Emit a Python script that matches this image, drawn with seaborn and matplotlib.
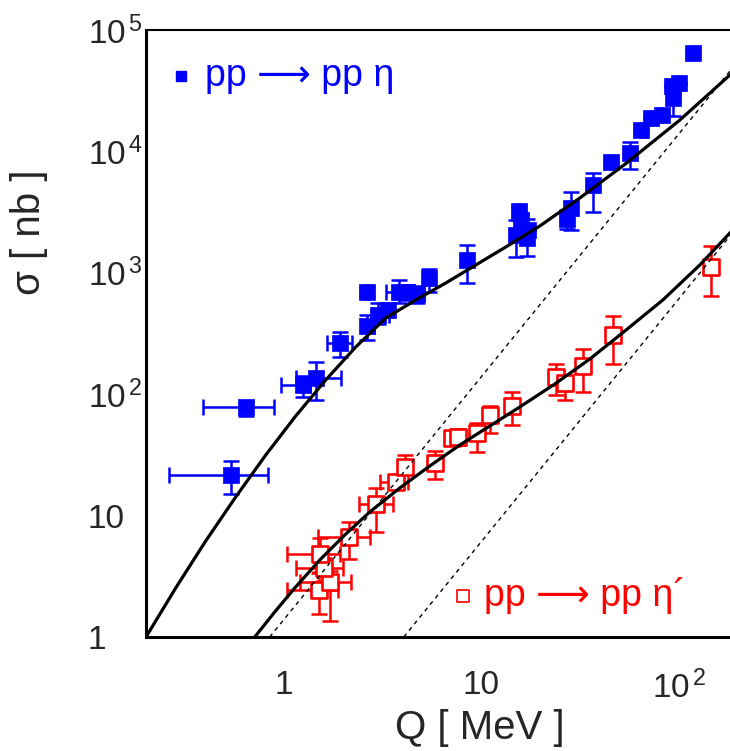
import numpy as np
import pandas as pd
import seaborn as sns
import matplotlib
matplotlib.use("Agg")
import matplotlib.pyplot as plt
from matplotlib.ticker import FixedLocator, LogLocator, NullFormatter

# ---------------- data ----------------
# pp -> pp eta
eta_Q     = [0.54, 0.64, 1.25, 1.46, 1.93, 2.62, 2.62, 3.0, 3.35, 3.8, 4.2, 4.7, 5.45,
             8.4, 15.0, 15.5, 15.9, 17.0, 17.2, 27.0, 28.3, 36.8, 45.2, 56.4, 64.0,
             72.6, 81.7, 93.5, 91.7, 100.0, 118.0]
eta_sig   = [21.5, 79, 119, 137, 262, 700, 365, 450, 490, 700, 690, 670, 900,
             1280, 2050, 3200, 2700, 1930, 2250, 2800, 3400, 5300, 8200, 9700, 15000,
             18700, 19900, 27300, 34600, 36400, 64300]
eta_Qlo   = [0.26, 0.39, 0.96, 1.15, 1.66, 2.62, 2.45, 2.8, 3.35, 3.3, 4.2, 4.3, 5.45,
             8.4, 15.0, 15.5, 15.9, 17.0, 17.2, 27.0, 28.3, 36.8, 45.2, 56.4, 64.0,
             72.6, 81.7, 93.5, 91.7, 100.0, 118.0]
eta_Qhi   = [0.83, 0.89, 1.35, 1.95, 2.21, 2.62, 2.85, 3.4, 3.35, 4.3, 4.2, 5.1, 5.45,
             8.4, 15.0, 15.5, 15.9, 17.0, 17.2, 27.0, 28.3, 36.8, 45.2, 56.4, 64.0,
             72.6, 81.7, 93.5, 91.7, 100.0, 118.0]
eta_slo   = [15, 66, 95, 90, 204, 640, 280, 380, 490, 560, 600, 560, 690,
             830, 1350, 2700, 2700, 1380, 2250, 2300, 2250, 3150, 8200, 7200, 15000,
             18700, 19900, 19600, 34600, 36400, 64300]
eta_shi   = [28, 85, 140, 183, 324, 760, 450, 560, 490, 880, 800, 780, 1070,
             1700, 2700, 3500, 2700, 2780, 2250, 3300, 4660, 6600, 8200, 11900, 15000,
             18700, 19900, 30000, 34600, 36400, 64300]

# pp -> pp eta'
etap_Q    = [1.50, 1.70, 1.60, 1.53, 2.13, 2.92, 3.68, 4.08, 5.8, 7.06, 7.62, 9.44,
             11.0, 14.2, 23.8, 26.4, 32.5, 46.4, 145.0]
etap_sig  = [2.44, 2.82, 3.7, 4.83, 6.7, 12.5, 19.0, 25.3, 27.0, 43.2, 44.7, 47.6,
             67.4, 80.0, 139, 123, 171, 308, 1120]
etap_Qlo  = [1.03, 1.20, 1.15, 1.035, 1.48, 2.40, 3.05, 3.9, 5.8, 7.06, 7.62, 9.44,
             11.0, 14.2, 23.8, 26.4, 32.5, 46.4, 145.0]
etap_Qhi  = [1.88, 2.19, 2.0, 1.91, 2.74, 3.57, 4.25, 4.3, 5.8, 7.06, 7.62, 9.44,
             11.0, 14.2, 23.8, 26.4, 32.5, 46.4, 145.0]
etap_slo  = [1.55, 1.35, 2.9, 3.45, 4.36, 7.37, 17.0, 22.0, 19.9, 38.0, 38.0, 33.6,
             48.0, 55.7, 98.5, 89.6, 104, 179, 650]
etap_shi  = [3.34, 3.52, 4.5, 6.5, 8.9, 16.9, 21.0, 31.5, 34.0, 50.0, 52.0, 57.6,
             80.0, 104, 176, 140, 234, 440, 1660]

# theory curves
fsi_eta_Q    = [0.2, 0.2827, 0.4012, 0.5692, 0.8081, 1.146, 1.626, 2.308, 3.276, 4.647,
                6.594, 9.357, 13.28, 19.74, 31.48, 54.28, 101.1, 181.1, 200.0]
fsi_eta_sig  = [1.0, 2.533, 6.178, 14.23, 31.56, 66.14, 130.9, 244.8, 424.4, 597,
                824, 1160, 1632, 2430, 4131, 8025, 18140, 42600, 50000]
fsi_etap_Q   = [0.7107, 0.8973, 1.133, 1.517, 2.030, 2.718, 3.856, 5.471, 7.764, 11.02,
                15.63, 23.51, 35.38, 53.21, 82.86, 127.6, 181.1, 200.0]
fsi_etap_sig = [1.0, 1.607, 2.533, 4.308, 6.921, 10.71, 16.88, 25.62, 38.15, 54.71,
                78.47, 121.3, 195.0, 331.6, 597, 1160, 2127, 2550]
ps_eta_Q     = [0.846, 200.0]
ps_eta_sig   = [1.0, 55900.0]
ps_etap_Q    = [4.04, 200.0]
ps_etap_sig  = [1.0, 2450.0]

xticks = [1, 10, 100]
xticklabels = ["1", "10", r"$\mathregular{10^{\,2}}$"]
yticks = [1, 10, 100, 1e3, 1e4, 1e5]
yticklabels = ["1", "10", r"$\mathregular{10^{\,2}}$", r"$\mathregular{10^{\,3}}$",
               r"$\mathregular{10^{\,4}}$", r"$\mathregular{10^{\,5}}$"]

# ---------------- style ----------------
sns.set_theme(style="white")
plt.rcParams["font.family"] = ["Liberation Sans", "DejaVu Sans"]
plt.rcParams["mathtext.fontset"] = "custom"
plt.rcParams["mathtext.rm"] = "Liberation Sans"
plt.rcParams["mathtext.it"] = "Liberation Sans:italic"
plt.rcParams["mathtext.bf"] = "Liberation Sans:bold"

BLUE = "#0000ff"
RED = "#ff0000"

fig = plt.figure(figsize=(7.30, 7.51), dpi=100)
ax = fig.add_axes([146 / 730, 114 / 751, 592.4 / 730, 607 / 751])
ax.set_xscale("log")
ax.set_yscale("log")
ax.set_xlim(0.2, 200)
ax.set_ylim(1, 1e5)

df_eta = pd.DataFrame(dict(Q=eta_Q, s=eta_sig, Qlo=eta_Qlo, Qhi=eta_Qhi, slo=eta_slo, shi=eta_shi))
df_etap = pd.DataFrame(dict(Q=etap_Q, s=etap_sig, Qlo=etap_Qlo, Qhi=etap_Qhi, slo=etap_slo, shi=etap_shi))

# error bars
for df, col in ((df_eta, BLUE), (df_etap, RED)):
    ax.errorbar(df.Q, df.s,
                xerr=[df.Q - df.Qlo, df.Qhi - df.Q],
                yerr=[df.s - df.slo, df.shi - df.s],
                fmt="none", ecolor=col, elinewidth=1.8, capsize=5.5, capthick=1.8, zorder=2)

sns.scatterplot(data=df_eta, x="Q", y="s", marker="s", s=135, color=BLUE,
                edgecolor=BLUE, linewidth=0.5, ax=ax, zorder=3, legend=False)
sns.scatterplot(data=df_etap, x="Q", y="s", marker="s", s=130, facecolor="white",
                edgecolor=RED, linewidth=1.9, ax=ax, zorder=3, legend=False)

# curves
for q, s, ls, lw in ((fsi_eta_Q, fsi_eta_sig, "-", 2.3), (fsi_etap_Q, fsi_etap_sig, "-", 2.3),
                     (ps_eta_Q, ps_eta_sig, (0, (3, 3)), 1.0), (ps_etap_Q, ps_etap_sig, (0, (3, 3)), 1.0)):
    sns.lineplot(x=q, y=s, sort=False, estimator=None, color="black",
                 linewidth=lw, linestyle=ls, ax=ax, zorder=4)

# axes styling
ax.spines["left"].set_linewidth(2.2)
ax.spines["bottom"].set_linewidth(2.2)
ax.spines["top"].set_linewidth(1.5)
ax.spines["right"].set_linewidth(1.5)
for sp in ax.spines.values():
    sp.set_color("black")

ax.xaxis.set_major_locator(FixedLocator(xticks))
ax.set_xticklabels(xticklabels)
ax.yaxis.set_major_locator(FixedLocator(yticks))
ax.set_yticklabels(yticklabels)
ax.xaxis.set_minor_locator(LogLocator(base=10, subs=np.arange(2, 10)))
ax.yaxis.set_minor_locator(LogLocator(base=10, subs=np.arange(2, 10)))
ax.xaxis.set_minor_formatter(NullFormatter())
ax.yaxis.set_minor_formatter(NullFormatter())
ax.tick_params(which="both", direction="in", top=False, right=False, color="black", width=1.1)
ax.tick_params(which="major", length=8.5, labelsize=24)
ax.tick_params(which="minor", length=4.3)
ax.tick_params(axis="x", which="major", pad=24)
ax.tick_params(axis="y", which="major", pad=42)
for lab in ax.get_yticklabels():
    lab.set_horizontalalignment("left")
ax.grid(False)

ax.set_xlabel("Q [ MeV ]", fontsize=29)
ax.xaxis.set_label_coords(0.564, -0.118)
ax.xaxis.label.set_verticalalignment("top")
ax.set_ylabel("σ [ nb ]", fontsize=29)
ax.yaxis.set_label_coords(-0.165, 0.667)

# in-plot legend labels
ax.plot([0.059], [0.925], marker="s", ms=7.5, color=BLUE, transform=ax.transAxes, zorder=5)
ax.text(0.10, 0.925, "pp ⟶ pp η", color=BLUE, fontsize=27,
        family=["Liberation Sans", "DejaVu Sans"], transform=ax.transAxes,
        va="center", ha="left")
ax.plot([0.535], [0.068], marker="s", ms=8, mfc="white", mec=RED, mew=1.2,
        transform=ax.transAxes, zorder=5)
ax.text(0.570, 0.068, "pp ⟶ pp η´", color=RED, fontsize=27,
        family=["Liberation Sans", "DejaVu Sans"], transform=ax.transAxes,
        va="center", ha="left")

fig.savefig("out.png", dpi=100)
